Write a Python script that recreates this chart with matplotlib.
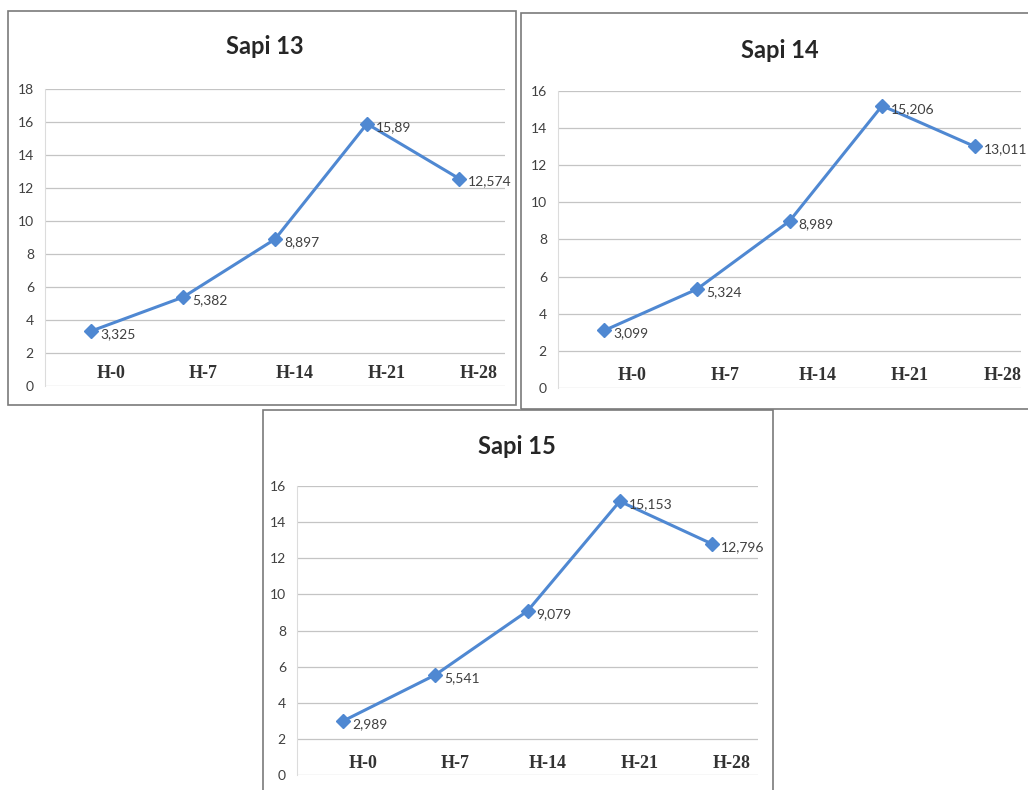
import matplotlib
matplotlib.use("Agg")
import matplotlib.pyplot as plt
from matplotlib.patches import Rectangle

# ---- data -------------------------------------------------------------
categories = ["H-0", "H-7", "H-14", "H-21", "H-28"]
sapi13 = [3.325, 5.382, 8.897, 15.89, 12.574]
sapi14 = [3.099, 5.324, 8.989, 15.206, 13.011]
sapi15 = [2.989, 5.541, 9.079, 15.153, 12.796]
titles = ["Sapi 13", "Sapi 14", "Sapi 15"]
y_max = [18, 16, 16]

# ---- layout (pixel boxes on a 1028x790 canvas) -------------------------
W, H = 1028, 790
fig = plt.figure(figsize=(W / 100, H / 100), dpi=100)
fig.patch.set_facecolor("white")

panels = [
    dict(title=titles[0], values=sapi13, ymax=y_max[0],
         ax=(45, 89, 505, 386), frame=(8, 11, 516, 405),
         title_xy=(265, 47), cat_dx=20),
    dict(title=titles[1], values=sapi14, ymax=y_max[1],
         ax=(558, 91, 1021, 388), frame=(521, 13, 1040, 409),
         title_xy=(780, 50), cat_dx=28),
    dict(title=titles[2], values=sapi15, ymax=y_max[2],
         ax=(297, 486, 758, 775), frame=(263, 410, 773, 800),
         title_xy=(517, 446), cat_dx=20),
]

LINE = "#4f88d2"
NUM_FONT = ["Lato", "DejaVu Sans"]


def px_axes(left, top, right, bottom):
    return fig.add_axes([left / W, 1 - bottom / H,
                         (right - left) / W, (bottom - top) / H])


def frame(left, top, right, bottom):
    fig.add_artist(Rectangle((left / W, 1 - bottom / H),
                             (right - left) / W, (bottom - top) / H,
                             transform=fig.transFigure, fill=False,
                             ec="#7a7a7a", lw=1.2))


for p in panels:
    frame(*p["frame"])
    ax = px_axes(*p["ax"])
    x = list(range(len(categories)))
    vals = p["values"]

    ax.plot(x, vals, color=LINE, lw=2.2, marker="D", ms=7,
            mfc=LINE, mec=LINE, zorder=3, clip_on=False)

    for xi, v in zip(x, vals):
        ax.annotate(str(v).replace(".", ","), xy=(xi, v),
                    xytext=(9, -3), textcoords="offset pixels",
                    ha="left", va="center", fontsize=10,
                    family=NUM_FONT, color="#404040",
                    annotation_clip=False, zorder=4)

    # category names sit just above the baseline, inside the plot area
    for xi, c in zip(x, categories):
        ax.annotate(c, xy=(xi, 0), xytext=(p["cat_dx"], 12),
                    textcoords="offset pixels", ha="center", va="center",
                    fontsize=13, fontweight="bold",
                    family="Liberation Serif", color="#333333")

    ax.set_xlim(-0.5, len(categories) - 0.5)
    ax.set_ylim(0, p["ymax"])
    ax.set_yticks(range(0, p["ymax"] + 1, 2))
    ax.set_xticks([])
    ax.grid(axis="y", color="#c4c4c4", lw=0.9)
    ax.set_axisbelow(True)
    for side in ("top", "right", "bottom"):
        ax.spines[side].set_visible(False)
    ax.spines["left"].set_color("#dcdcdc")
    ax.spines["left"].set_linewidth(0.8)
    ax.tick_params(axis="y", length=0, pad=8, labelsize=10,
                   labelcolor="#404040")
    for lbl in ax.get_yticklabels():
        lbl.set_family(NUM_FONT)

    tx, ty = p["title_xy"]
    fig.text(tx / W, 1 - ty / H, p["title"], ha="center", va="center",
             fontsize=17, fontweight="bold", family=["Lato", "DejaVu Sans"],
             color="#262626")

fig.savefig("out.png", dpi=100, facecolor="white")
